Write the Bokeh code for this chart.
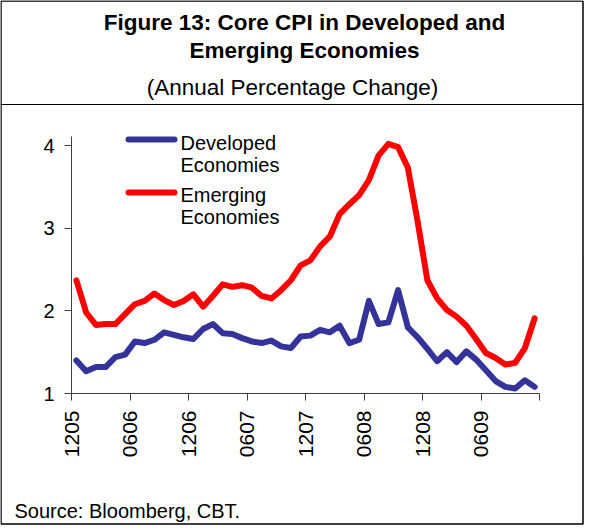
import numpy as np
from bokeh.plotting import figure
from bokeh.models import Range1d, FixedTicker, Label, LinearAxis, Span
from bokeh.embed import file_html
from bokeh.resources import INLINE

# ---------------- data ----------------
months = ["1205", "0106", "0206", "0306", "0406", "0506", "0606", "0706", "0806", "0906", "1006", "1106",
          "1206", "0107", "0207", "0307", "0407", "0507", "0607", "0707", "0807", "0907", "1007", "1107",
          "1207", "0108", "0208", "0308", "0408", "0508", "0608", "0708", "0808", "0908", "1008", "1108",
          "1208", "0109", "0209", "0309", "0409", "0509", "0609", "0709", "0809", "0909", "1009", "1109"]

developed = [1.40, 1.27, 1.32, 1.32, 1.44, 1.47, 1.63, 1.61, 1.65, 1.74, 1.71, 1.68,
             1.66, 1.78, 1.84, 1.73, 1.72, 1.67, 1.63, 1.61, 1.64, 1.57, 1.55, 1.69,
             1.70, 1.77, 1.74, 1.82, 1.61, 1.65, 2.12, 1.84, 1.86, 2.25, 1.80, 1.68,
             1.54, 1.39, 1.50, 1.38, 1.51, 1.41, 1.28, 1.15, 1.08, 1.06, 1.16, 1.08]

emerging = [2.37, 1.98, 1.83, 1.84, 1.84, 1.96, 2.08, 2.12, 2.21, 2.13, 2.07, 2.12,
            2.20, 2.05, 2.18, 2.32, 2.29, 2.31, 2.28, 2.18, 2.15, 2.25, 2.37, 2.55,
            2.61, 2.78, 2.90, 3.17, 3.29, 3.40, 3.58, 3.88, 4.02, 3.98, 3.73, 3.08,
            2.37, 2.15, 2.01, 1.93, 1.82, 1.66, 1.49, 1.43, 1.35, 1.37, 1.55, 1.91]

series_names = [["Developed", "Economies"], ["Emerging", "Economies"]]
series_colors = ["#333399", "#FF0000"]
x_tick_labels = months[::6] + [""]
y_ticks = [1, 2, 3, 4]
y_axis_top = 4.11

title_lines = ["Figure 13: Core CPI in Developed and", "Emerging Economies"]
subtitle = "(Annual Percentage Change)"
source = "Source: Bloomberg, CBT."

# ---------------- geometry ----------------
FONT = "Liberation Sans"
W, H = 584, 526                 # canvas (= plot frame, box drawn inside)
AX_L, AX_R = 71.0, 539.0        # pixel span of the category axis
Y1_PX, Y4_PX = 393.0, 145.0     # pixel rows of y=1 and y=4
n = len(months)
ppx = (AX_R - AX_L) / n
ppy = (Y1_PX - Y4_PX) / 3.0

def vx(px):
    return (px - AX_L) / ppx

def vy(py):
    return 1 + (Y1_PX - py) / ppy

p = figure(width=W, height=H, title=None,
           min_border_left=0, min_border_right=0, min_border_top=0, min_border_bottom=0,
           x_range=Range1d(vx(0), vx(W)), y_range=Range1d(vy(H), vy(0)),
           x_axis_type=None, y_axis_type=None,
           output_backend="svg", toolbar_location=None)
p.grid.grid_line_color = None
p.outline_line_color = None
p.background_fill_color = "white"
p.border_fill_color = "white"

# outer box and separator under the title block
p.quad(left=vx(0.5), right=vx(582.5), top=vy(0.5), bottom=vy(523.5),
       fill_color=None, line_color="black", line_width=1.5)
p.add_layout(Span(location=vy(104), dimension="width", line_color="black", line_width=1))

# axes (drawn inside the boxed frame at fixed locations)
xt = list(range(0, n + 1, 6))
xaxis = LinearAxis(fixed_location=1, bounds=(0, n), ticker=FixedTicker(ticks=xt),
                   major_label_overrides={t: lab for t, lab in zip(xt, x_tick_labels)},
                   major_label_orientation=np.pi / 2)
yaxis = LinearAxis(fixed_location=0, bounds=(1, y_axis_top), ticker=FixedTicker(ticks=y_ticks))
for ax in (xaxis, yaxis):
    ax.axis_line_color = "#404040"
    ax.axis_line_width = 1
    ax.major_tick_line_color = "#404040"
    ax.major_tick_in = 0
    ax.major_tick_out = 7
    ax.minor_tick_line_color = None
    ax.major_label_text_font = FONT
    ax.major_label_text_color = "black"
xaxis.major_label_text_font_size = "21px"
yaxis.major_label_text_font_size = "20px"
xaxis.major_label_standoff = 10
yaxis.major_label_standoff = 10
p.add_layout(xaxis, "below")
p.add_layout(yaxis, "left")

# series
xs = [i + 0.5 for i in range(n)]
for vals, col in zip([developed, emerging], series_colors):
    p.line(xs, vals, line_color=col, line_width=6, line_join="round", line_cap="round")

# legend (manual)
leg_rows = [(139, 142, 164), (192, 194, 216)]
for (ly, c1, c2), col, names in zip(leg_rows, series_colors, series_names):
    p.line([vx(128), vx(174)], [vy(ly), vy(ly)], line_color=col, line_width=6, line_cap="round")
    for txt, c in zip(names, (c1, c2)):
        p.add_layout(Label(x=vx(180), y=vy(c), text=txt, text_font=FONT,
                           text_font_size="20px", text_color="black",
                           text_baseline="middle", text_align="left"))

# title texts
for txt, c in zip(title_lines, (22, 50)):
    p.add_layout(Label(x=vx(304), y=vy(c), text=txt, text_font=FONT, text_font_size="22.5px",
                       text_font_style="bold", text_color="black",
                       text_align="center", text_baseline="middle"))
p.add_layout(Label(x=vx(292), y=vy(87), text=subtitle, text_font=FONT, text_font_size="22.5px",
                   text_color="black", text_align="center", text_baseline="middle"))
p.add_layout(Label(x=vx(14), y=vy(510), text=source, text_font=FONT, text_font_size="20px",
                   text_color="black", text_align="left", text_baseline="middle"))

open("out.html", "w").write(file_html(p, INLINE))
